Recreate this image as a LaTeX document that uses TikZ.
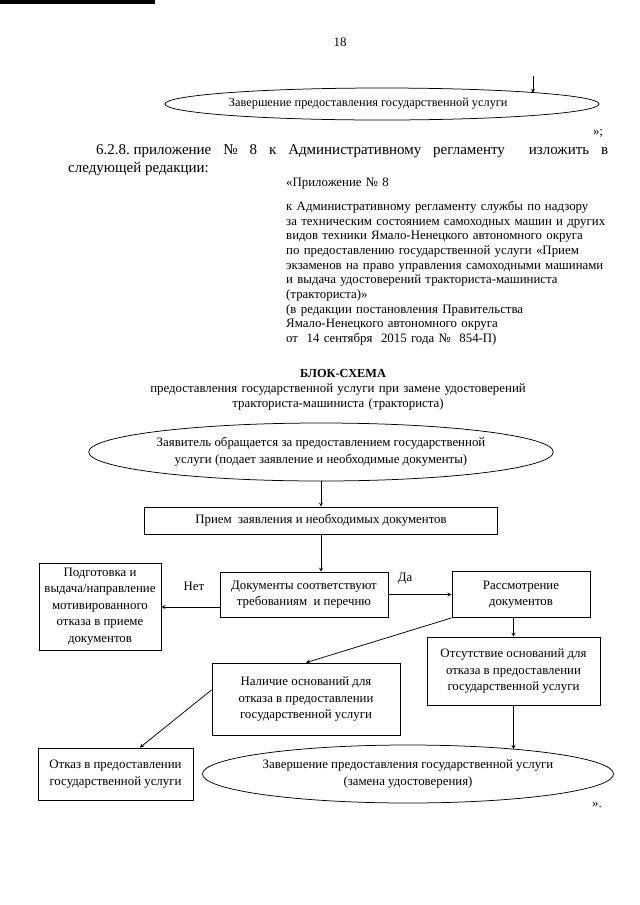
\documentclass[tikz,border=0pt]{standalone}
\usepackage{fontspec}
\setmainfont{Liberation Serif}
\usetikzlibrary{shapes.geometric,arrows}

\newcommand{\pxlen}{0.328125mm}

\begin{document}
\begin{tikzpicture}[
    x=\pxlen, y=-\pxlen,
    every node/.style={inner sep=0pt, font=\fontsize{12}{15.5}\selectfont},
    box/.style={rectangle, draw, line width=0.7pt, align=center},
    oval/.style={ellipse, draw, line width=0.7pt, align=center},
    arrow/.style={->, >=stealth, line width=0.7pt},
    body/.style={font=\fontsize{14}{16}\selectfont, anchor=base west},
    note/.style={font=\fontsize{12}{13.7}\selectfont, anchor=base west, align=left, text width=125mm}
]
    \fill[white] (0,0) rectangle (640,905);
    \useasboundingbox (0,0) rectangle (640,905);
    \fill (0,0) rectangle (155,4);

    % end of the previous scheme
    \node (pagenum) at (340,42) {18};
    \coordinate (previn) at (533,76);
    \node[oval, minimum width=434*\pxlen, minimum height=32*\pxlen, font=\fontsize{11.5}{13}\selectfont] (prevend) at (382,104) {Завершение предоставления государственной услуги\hspace*{9mm}};
    \draw[arrow] (previn) -- (previn |- prevend.4);
    \node (quote1) at (598,133) {»;};

    % text of the page
    \node[body] (para) at (96,154) {\makebox[168mm][s]{6.2.8.\kern3.5pt приложение № 8 к Административному регламенту\ \ изложить в}};
    \node[body] (para2) at (68,172) {следующей редакции:};
    \node[note] (apxhead) at (286,186.5) {«Приложение № 8};
    \node[note] (apxtext) at (286,210.5) {к Административному регламенту службы по надзору\\
        за техническим состоянием самоходных машин и других\\
        видов техники Ямало-Ненецкого автономного округа\\
        по предоставлению государственной услуги «Прием\\
        экзаменов на право управления самоходными машинами\\
        и выдача удостоверений тракториста-машиниста\\
        (тракториста)»\\
        (в редакции постановления Правительства\\
        Ямало-Ненецкого автономного округа\\
        от\ \ 14 сентября\ \ 2015 года №\ \ 854-П)};

    \node[anchor=base, font=\bfseries\fontsize{11.5}{14}\selectfont] (title) at (343,377) {БЛОК-СХЕМА};
    \node[anchor=base, align=center, text width=150mm, font=\fontsize{12}{14.5}\selectfont] (subtitle) at (338,392) {предоставления государственной услуги при замене удостоверений\\тракториста-машиниста (тракториста)};

    % block scheme
    \node[oval, minimum width=390*\pxlen, minimum height=58*\pxlen] (start) at (321,452) {Заявитель обращается за предоставлением государственной\\услуги (подает заявление и необходимые документы)};
    \node[box, minimum width=353*\pxlen, minimum height=27*\pxlen] (priem) at (321,520.5) {Прием\ \ заявления и необходимых документов};
    \node[box, minimum width=168*\pxlen, minimum height=45*\pxlen] (docs) at (304,594.5) {Документы соответствуют\\требованиям\ \ и перечню};
    \node[box, minimum width=122*\pxlen, minimum height=87*\pxlen] (reject) at (100,606.5) {Подготовка и\\выдача/направление\\мотивированного\\отказа в приеме\\документов};
    \node[box, minimum width=138*\pxlen, minimum height=46*\pxlen] (review) at (521,594.5) {Рассмотрение\\документов};
    \node[box, minimum width=173*\pxlen, minimum height=68*\pxlen] (noground) at (513.5,671) {Отсутствие оснований для\\отказа в предоставлении\\государственной услуги};
    \node[box, minimum width=188*\pxlen, minimum height=72*\pxlen] (ground) at (306,699) {Наличие оснований для\\отказа в предоставлении\\государственной услуги};
    \node[box, minimum width=155*\pxlen, minimum height=52*\pxlen] (refusal) at (115.5,774) {Отказ в предоставлении\\государственной услуги};
    \node[oval, minimum width=383*\pxlen, minimum height=58*\pxlen] (finish) at (408,774) {Завершение предоставления государственной услуги\\(замена удостоверения)};
    \node (quote2) at (597,805) {».};

    \node (no) at (194,586) {Нет};
    \node (yes) at (405,579) {Да};

    \draw[arrow] (start) -- (priem);
    \draw[arrow] (priem) -- (priem |- docs.north);
    \draw[arrow] ([yshift=-4.1mm]docs.west) -- ([yshift=-4.1mm]docs.west -| reject.east);
    \draw[arrow] (docs) -- (review);
    \draw[arrow] (review.south -| noground.north) -- (noground.north);
    \draw[arrow] (review.south west) -- (ground.north);
    \draw[arrow] ([yshift=3mm]ground.west) -- ([xshift=8mm]refusal.north);
    \draw[arrow] (noground.south) -- (noground.south |- finish.13);
\end{tikzpicture}
\end{document}
